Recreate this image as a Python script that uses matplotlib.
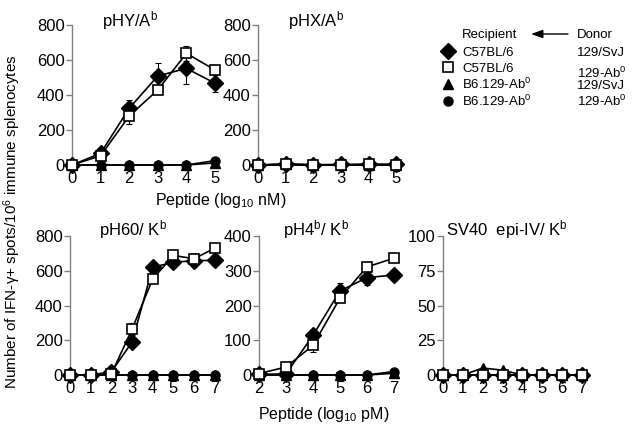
import numpy as np
import matplotlib
matplotlib.use("Agg")
import matplotlib.pyplot as plt

plt.rcParams["font.family"] = ["Liberation Sans", "DejaVu Sans"]
plt.rcParams["mathtext.fontset"] = "custom"
plt.rcParams["mathtext.rm"] = "Liberation Sans"
plt.rcParams["mathtext.it"] = "Liberation Sans:italic"
plt.rcParams["mathtext.bf"] = "Liberation Sans:bold"

# ---- data ----
# pHY/A^b, peptide log10 nM
hy_x = [0, 1, 2, 3, 4, 5]
hy_diamond = [0, 67, 324, 509, 552, 467]
hy_diamond_err = [0, 12, 50, 75, 90, 50]
hy_square = [0, 53, 280, 429, 638, 543]
hy_square_err = [0, 10, 45, 15, 42, 15]
hy_triangle = [0, 0, 0, 0, 0, 12]
hy_circle = [0, 0, 0, 0, 0, 25]

# pHX/A^b, peptide log10 nM
hx_x = [0, 1, 2, 3, 4, 5]
hx_diamond = [0, 6, 2, 3, 5, 4]
hx_square = [0, 5, 0, 0, 3, 2]
hx_triangle = [0, 3, 0, 0, 0, 0]
hx_circle = [0, 0, 0, 0, 0, 0]

# pH60/K^b, peptide log10 pM
h60_x = [0, 1, 2, 3, 4, 5, 6, 7]
h60_diamond = [0, 0, 19, 189, 620, 649, 658, 660]
h60_diamond_err = [0, 0, 5, 15, 15, 15, 20, 15]
h60_square = [0, 0, 6, 264, 553, 688, 669, 730]
h60_square_err = [0, 0, 5, 35, 15, 10, 15, 10]
h60_triangle = [0, 0, 0, 0, 0, 0, 0, 0]
h60_circle = [0, 0, 0, 0, 0, 0, 0, 0]

# pH4^b/K^b, peptide log10 pM
h4_x = [2, 3, 4, 5, 6, 7]
h4_diamond = [2, 3, 114, 242, 280, 288]
h4_diamond_err = [0, 2, 17, 22, 20, 8]
h4_square = [4, 23, 85, 221, 311, 336]
h4_square_err = [0, 5, 18, 10, 8, 5]
h4_triangle = [0, 0, 0, 0, 0, 5]
h4_circle = [0, 0, 0, 0, 0, 10]

# SV40 epi-IV/K^b, peptide log10 pM
sv_x = [0, 1, 2, 3, 4, 5, 6, 7]
sv_diamond = [0, 0, 0, 0, 0, 0, 0, 0]
sv_square = [0, 0, 0, 0, 0, 0, 0, 0]
sv_triangle = [0, 0, 5, 3.5, 0, 0, 0, 0]
sv_circle = [0, 0, 0, 0, 0, 0, 0, 0]

recipients = ["C57BL/6", "C57BL/6", "B6.129-Ab$^0$", "B6.129-Ab$^0$"]
donors = ["129/SvJ", "129-Ab$^0$", "129/SvJ", "129-Ab$^0$"]

styles = {
    "diamond": dict(marker="D", ms=7.8, mfc="black", mec="black", mew=1.0),
    "square": dict(marker="s", ms=7.8, mfc="white", mec="black", mew=1.2),
    "triangle": dict(marker="^", ms=7.0, mfc="black", mec="black", mew=1.0),
    "circle": dict(marker="o", ms=6.5, mfc="black", mec="black", mew=1.0),
}

W, H = 635, 432
fig = plt.figure(figsize=(W / 100, H / 100), dpi=100)


def make_ax(left, top, width, height):
    return fig.add_axes([left / W, 1 - (top + height) / H, width / W, height / H])


def draw(ax, x, tri, cir, dia, sq, dia_err=None, sq_err=None):
    for y, key in [(tri, "triangle"), (cir, "circle")]:
        ax.plot(x, y, color="black", lw=1.2, clip_on=False, zorder=3, **styles[key])
    if dia_err is not None:
        ax.errorbar(x, dia, yerr=dia_err, fmt="none", ecolor="black",
                    elinewidth=0.8, capsize=2.5, capthick=0.8, clip_on=False, zorder=4)
    ax.plot(x, dia, color="black", lw=1.2, clip_on=False, zorder=5, **styles["diamond"])
    if sq_err is not None:
        ax.errorbar(x, sq, yerr=sq_err, fmt="none", ecolor="black",
                    elinewidth=0.8, capsize=2.5, capthick=0.8, clip_on=False, zorder=6)
    ax.plot(x, sq, color="black", lw=1.2, clip_on=False, zorder=7, **styles["square"])


def style_ax(ax, xlim, xticks, ylim, yticks):
    ax.set_xlim(*xlim)
    ax.set_ylim(*ylim)
    ax.set_xticks(xticks)
    ax.set_yticks(yticks)
    for s in ["top", "right", "bottom"]:
        ax.spines[s].set_visible(False)
    ax.spines["left"].set_color("#808080")
    ax.spines["left"].set_linewidth(1.0)
    ax.tick_params(axis="x", length=0, pad=4.5, labelsize=12)
    ax.tick_params(axis="y", length=4.3, width=1.0, color="#808080", pad=1, labelsize=12)
    ax.patch.set_alpha(0)


ax1 = make_ax(72, 25, 151, 140)
draw(ax1, hy_x, hy_triangle, hy_circle, hy_diamond, hy_square, hy_diamond_err, hy_square_err)
style_ax(ax1, (0, 5.28), hy_x, (0, 800), [0, 200, 400, 600, 800])

ax2 = make_ax(258, 25, 146, 140)
draw(ax2, hx_x, hx_triangle, hx_circle, hx_diamond, hx_square)
style_ax(ax2, (0, 5.28), hx_x, (0, 800), [0, 200, 400, 600, 800])

ax3 = make_ax(70, 236, 151, 139)
draw(ax3, h60_x, h60_triangle, h60_circle, h60_diamond, h60_square, h60_diamond_err, h60_square_err)
style_ax(ax3, (0, 7.3), h60_x, (0, 800), [0, 200, 400, 600, 800])

ax4 = make_ax(259, 236, 143, 139)
draw(ax4, h4_x, h4_triangle, h4_circle, h4_diamond, h4_square, h4_diamond_err, h4_square_err)
style_ax(ax4, (2, 7.3), h4_x, (0, 400), [0, 100, 200, 300, 400])

ax5 = make_ax(443, 236, 145, 139)
draw(ax5, sv_x, sv_triangle, sv_circle, sv_diamond, sv_square)
style_ax(ax5, (0, 7.3), sv_x, (0, 100), [0, 25, 50, 75, 100])

# overlay in pixel coordinates for titles, labels and key
ov = fig.add_axes([0, 0, 1, 1], zorder=10)
ov.set_xlim(0, W)
ov.set_ylim(H, 0)
ov.axis("off")
ov.patch.set_alpha(0)

ov.text(130, 21, "pHY/A$^{\\rm b}$", ha="center", va="center", fontsize=12)
ov.text(316, 21, "pHX/A$^{\\rm b}$", ha="center", va="center", fontsize=12)
ov.text(133, 230, "pH60/ K$^{\\rm b}$", ha="center", va="center", fontsize=12)
ov.text(316, 230, "pH4$^{\\rm b}$/ K$^{\\rm b}$", ha="center", va="center", fontsize=12)
ov.text(507, 230, "SV40  epi-IV/ K$^{\\rm b}$", ha="center", va="center", fontsize=12)

ov.text(221, 201, "Peptide (log$_{10}$ nM)", ha="center", va="center", fontsize=11.5)
ov.text(324, 414, "Peptide (log$_{10}$ pM)", ha="center", va="center", fontsize=11.5)
ov.text(12, 222, "Number of IFN-\u03b3+ spots/10$^6$ immune splenocytes",
        ha="center", va="center", rotation=90, fontsize=11)

# key
ov.text(462, 38, "Recipient", ha="left", va="baseline", fontsize=9.5)
ov.text(577, 38, "Donor", ha="left", va="baseline", fontsize=9.5)
ov.annotate("", xy=(531, 34), xytext=(568, 34),
            arrowprops=dict(arrowstyle="-|>,head_length=0.7,head_width=0.25",
                            color="black", lw=1.0, shrinkA=0, shrinkB=0))
marker_y = [51, 67, 84, 101]
rec_base = [56, 72, 89, 106]
don_base = [56, 78, 89, 106]
for key, rec, don, my, ry, dy in zip(["diamond", "square", "triangle", "circle"],
                                     recipients, donors, marker_y, rec_base, don_base):
    ov.plot([448], [my], linestyle="none", **styles[key])
    ov.text(462, ry, rec, ha="left", va="baseline", fontsize=9.5)
    ov.text(577, dy, don, ha="left", va="baseline", fontsize=9.5)

fig.savefig("out.png", dpi=100)
